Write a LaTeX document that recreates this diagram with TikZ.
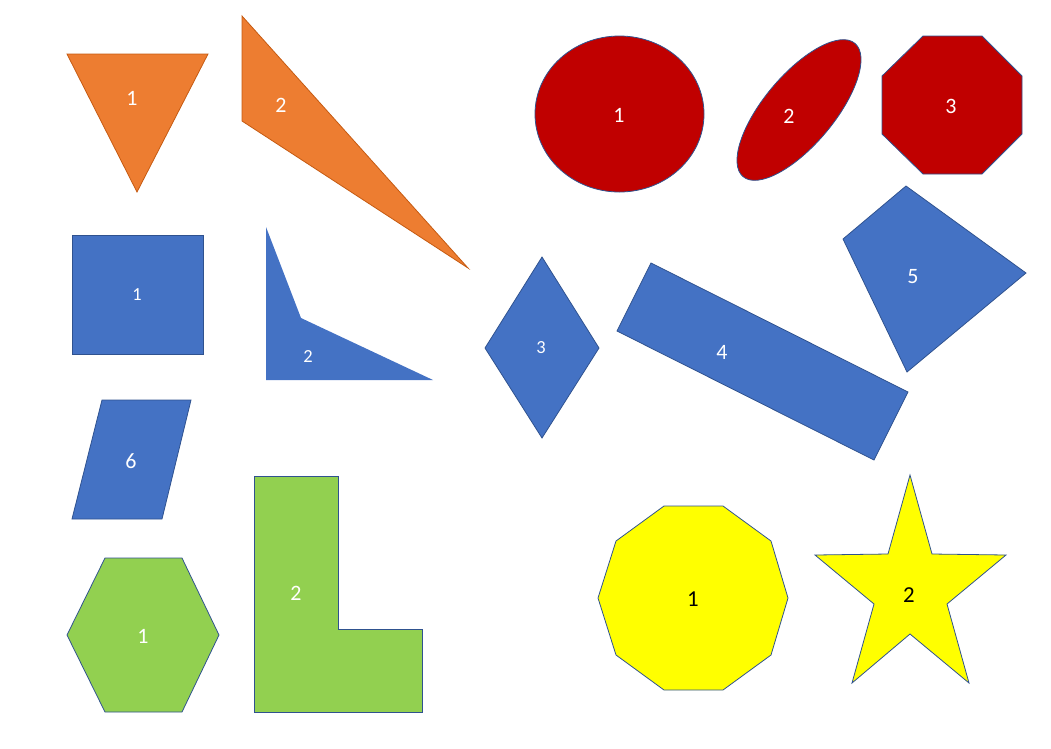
\documentclass[tikz,border=0pt]{standalone}
\usepackage{fontspec}
\setmainfont{Carlito}
\usepackage{tikz}
\usetikzlibrary{positioning}
\definecolor{orangefill}{HTML}{ED7D31}
\definecolor{orangeedge}{HTML}{C55A11}
\definecolor{redfill}{HTML}{C00000}
\definecolor{bluefill}{HTML}{4472C4}
\definecolor{blueedge}{HTML}{2F528F}
\definecolor{greenfill}{HTML}{92D050}
\definecolor{yellowfill}{HTML}{FFFF00}

\begin{document}
\begin{tikzpicture}[x=0.02cm,y=-0.02cm,line join=miter,
      shp/.style={draw=blueedge,line width=0.45pt},
      lbl/.style={text=white,inner sep=0pt,font=\fontsize{12.5}{14}\selectfont},
      lblsmall/.style={lbl,font=\fontsize{10.5}{12}\selectfont},
      lbldark/.style={lbl,text=black,font=\fontsize{13}{15}\selectfont}]
    \path[use as bounding box] (0,0) rectangle (1051,748);
    % orange triangles
    \filldraw[shp,draw=orangeedge,fill=orangefill] (67,54) -- (208,54) -- (137,192) -- cycle;
    \node[lbl] (tri1) at (132,98) {1};
    \filldraw[shp,draw=orangeedge,fill=orangefill] (242,16) -- (242,121) -- (468,268) -- cycle;
    \node[lbl] (tri2) at (281,105) {2};
    % red round shapes
    \filldraw[shp,fill=redfill] (619.5,114) ellipse [x radius=84.5,y radius=78];
    \node[lbl] (ell1) at (619,115) {1};
    \filldraw[shp,fill=redfill,rotate around={50:(799,110)}] (799,110) ellipse [x radius=87,y radius=35];
    \node[lbl] (ell2) at (789,116) {2};
    \filldraw[shp,fill=redfill] (923,36) -- (982,36) -- (1022,76) -- (1022,134) -- (982,174)
      -- (923,174) -- (882,134) -- (882,76) -- cycle;
    \node[lbl] (oct3) at (951,106) {3};
    % blue quadrilaterals
    \filldraw[shp,fill=bluefill] (72,235) rectangle (203,354);
    \node[lblsmall] (quad1) at (137,295) {1};
    \fill[bluefill] (266,227) -- (301,318) -- (433,380) -- (266,380) -- cycle;
    \node[lblsmall] (quad2) at (308,357) {2};
    \filldraw[shp,fill=bluefill] (542,257) -- (599,348) -- (542,438) -- (485,348) -- cycle;
    \node[lblsmall] (quad3) at (541,348) {3};
    \filldraw[shp,fill=bluefill] (651,263) -- (908,392) -- (874,460) -- (617,331) -- cycle;
    \node[lbl] (quad4) at (722,352) {4};
    \filldraw[shp,fill=bluefill] (906,186) -- (1026,273) -- (907,372) -- (843,239) -- cycle;
    \node[lbl] (quad5) at (913,277) {5};
    \filldraw[shp,fill=bluefill] (102,400) -- (191,400) -- (162,519) -- (72,519) -- cycle;
    \node[lbl] (quad6) at (131,461) {6};
    % green shapes
    \filldraw[shp,fill=greenfill] (105,558) -- (182,558) -- (219,635) -- (182,712) -- (105,712)
      -- (67,635) -- cycle;
    \node[lbl] (hex1) at (143,636) {1};
    \filldraw[shp,fill=greenfill] (254,476) -- (338,476) -- (338,629) -- (422,629) -- (422,712)
      -- (254,712) -- cycle;
    \node[lbl] (lshape2) at (296,593) {2};
    % yellow shapes
    \filldraw[shp,fill=yellowfill] (664,506) -- (723,506) -- (771,541) -- (788,598) -- (771,655)
      -- (723,690) -- (664,690) -- (616,655) -- (598,598) -- (616,541) -- cycle;
    \node[lbldark] (dec1) at (693,599) {1};
    \filldraw[shp,fill=yellowfill] (910,475) -- (932,554) -- (1006,555) -- (947,604) -- (969,683)
      -- (910,634) -- (852,683) -- (874,604) -- (815,555) -- (888,554) -- cycle;
    \node[lbldark] (star2) at (909,595) {2};
  \end{tikzpicture}
\end{document}
